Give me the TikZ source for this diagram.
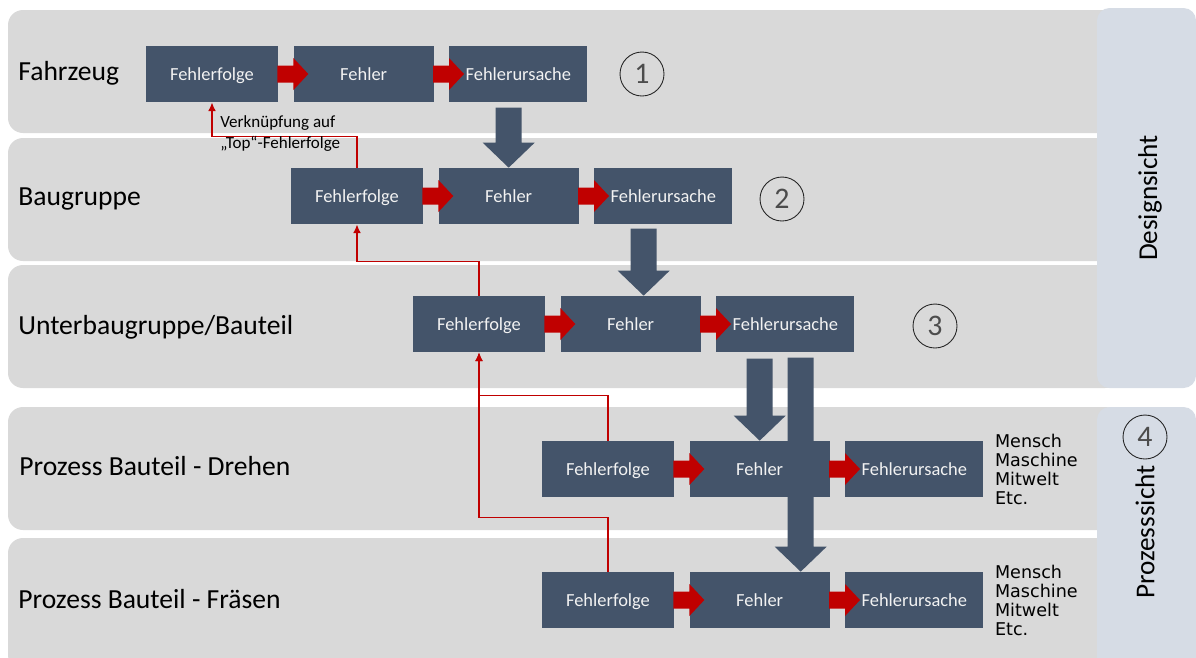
\documentclass[tikz,border=0pt]{standalone}
\usepackage{fontspec}
\setmainfont{Carlito}
\newfontfamily\dejavu{DejaVu Sans}
\usetikzlibrary{positioning,calc,arrows.meta}
\definecolor{bandgrau}{HTML}{D9D9D9}
\definecolor{sichtblau}{HTML}{D6DCE5}
\definecolor{kastenblau}{HTML}{44546A}
\definecolor{pfeilrot}{HTML}{C00000}

\begin{document}
\begin{tikzpicture}[x=0.02cm,y=-0.02cm,
    kasten/.style={fill=kastenblau,text=white!95!black,minimum height=1.12cm,inner sep=0pt,text height=8pt,text depth=1pt,font=\fontsize{10.5}{12}\selectfont},
    folge/.style={kasten,minimum width=2.64cm},
    fehler/.style={kasten,minimum width=2.8cm},
    ursache/.style={kasten,minimum width=2.76cm},
    ebene/.style={anchor=west,inner sep=0pt,text height=12pt,text depth=2pt,font=\fontsize{15.7}{19}\selectfont},
    nummer/.style={circle,draw=black!85,line width=0.5pt,minimum size=0.88cm,inner sep=0pt,text=black!70,font=\fontsize{17}{20}\selectfont},
    sicht/.style={rotate=90,font=\fontsize{15.5}{18}\selectfont},
    link/.style={pfeilrot,line width=0.9pt,-{Latex[length=5pt,width=4.5pt]}},
    liste/.style={align=left,anchor=west,inner sep=0pt,font=\dejavu\fontsize{10}{10.8}\selectfont}]

    \useasboundingbox (0,0) rectangle (1196,657);

    %Ebenen
    \foreach \ya/\yb in {10/133,138/261,265/388,407/530,538/670}{
        \fill[bandgrau,rounded corners=0.3cm] (8,\ya) rectangle (1120,\yb);
    }
    %Sichten
    \fill[sichtblau,rounded corners=0.25cm] (1097,8) rectangle (1196,388);
    \fill[sichtblau,rounded corners=0.25cm] (1097,407) rectangle (1196,670);

    \node[ebene] (l1) at (18,72) {Fahrzeug};
    \node[ebene] (l2) at (18,197) {Baugruppe};
    \node[ebene] (l3) at (18,326) {Unterbaugruppe/Bauteil};
    \node[ebene] (l4) at (19,467) {Prozess Bauteil - Drehen};
    \node[ebene] (l5) at (18,600) {Prozess Bauteil - Fräsen};

    %Kaesten
    \foreach \r/\x/\y in {1/212/74,2/357/196,3/479/324,4/608/469,5/608/600}{
        \node[folge] (f\r) at (\x,\y) {Fehlerfolge};
        \node[fehler,right=0.3cm of f\r] (e\r) {Fehler};
        \node[ursache,right=0.3cm of e\r] (u\r) {Fehlerursache};
    }

    %rote Pfeile
    \foreach \r in {1,...,5}{
        \foreach \k in {f,e}{
            \fill[pfeilrot] (\k\r.east) ++(-1,-8.5) -- ++(16,0) -- ++(0,-7.5) -- ++(15,16) -- ++(-15,16) -- ++(0,-7.5) -- ++(-16,0) -- cycle;
        }
    }

    %grosse Pfeile
    \coordinate (t1) at (e2.north);
    \coordinate (t2) at ($(e3.north)+(13,0)$);
    \coordinate (t3) at (e4.north);
    \coordinate (t4) at ($(e5.north)+(41,0)$);
    \foreach \t/\len in {t1/60,t2/67,t3/82,t4/214}{
        \fill[kastenblau] (\t) -- ++(-26,-25) -- ++(13,0) -- ++(0,-\len+25) -- ++(26,0) -- ++(0,\len-25) -- ++(13,0) -- cycle;
    }

    %Verknuepfungen
    \draw[link] (f2.north) -- ++(0,-31) -| (f1.south);
    \draw[link] (f3.north) -- ++(0,-34) -| (f2.south);
    \draw[link] (f4.north) -- ++(0,-45) -| (f3.south);
    \draw[link] (f5.north) -- ++(0,-54) -| (f3.south);
    \node[align=left,anchor=west,inner sep=0pt,font=\fontsize{9.7}{12}\selectfont] (hinweis) at (220,133.5) {Verknüpfung auf\\„Top“-Fehlerfolge};

    %Nummern
    \node[nummer] (n1) at (642,74) {1};
    \node[nummer] (n2) at (782,199) {2};
    \node[nummer] (n3) at (935,326) {3};
    \node[nummer] (n4) at (1145,437) {4};

    \node[sicht] (design) at (1150,198) {Designsicht};
    \node[sicht] (prozess) at (1145,532) {Prozesssicht};

    %Einflussgroessen
    \node[liste,right=0.22cm of u4] (m4) {Mensch\\Maschine\\Mitwelt\\Etc.};
    \node[liste,right=0.22cm of u5] (m5) {Mensch\\Maschine\\Mitwelt\\Etc.};

\end{tikzpicture}
\end{document}
